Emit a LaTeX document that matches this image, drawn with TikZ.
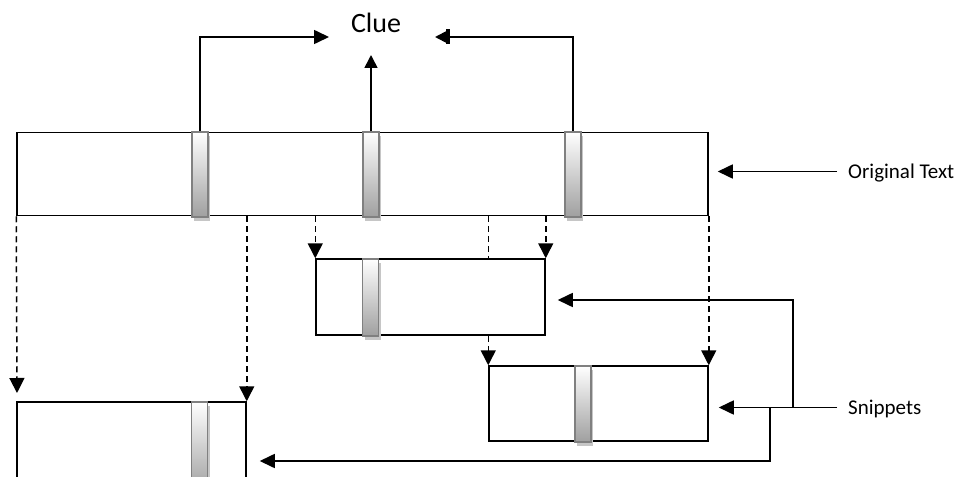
\documentclass[tikz,border=0pt]{standalone}
\usepackage{fontspec}
\setmainfont{Carlito}
\usetikzlibrary{arrows.meta,shadows,calc}
\tikzset{
  box/.style={draw=black,line width=1.5pt,fill=white,rectangle,inner sep=0pt},
  marker/.style={draw=gray,line width=1.6pt,rectangle,inner sep=0pt,minimum width=16pt,
     top color=white,bottom color=gray!75,
     drop shadow={shadow xshift=2pt,shadow yshift=-3.5pt,fill=gray!45,opacity=1}},
  lab/.style={inner sep=0pt,text height=13pt,text depth=0pt,font=\fontsize{21}{24}\selectfont},
  arr/.style={line width=1.6pt,-{Triangle[length=15pt,width=14pt]}},
  dsh/.style={line width=1.5pt,dash pattern=on 6pt off 4pt,-{Triangle[length=15pt,width=15pt]}},
}
\begin{document}
\begin{tikzpicture}[x=1pt,y=-1pt]
\useasboundingbox (0,0) rectangle (960,476);
% boxes
\node[box,minimum width=691pt,minimum height=83pt] (main) at (362.5,174) {};
\node[box,minimum width=219pt,minimum height=75pt] (snip2) at (598.5,403.5) {};
\begin{scope}
  \clip (0,0) rectangle (960,476);
  \node[box,minimum width=229pt,minimum height=118pt] (bl) at (131.5,461) {};
  \node[marker,minimum height=90pt] (mk7) at (199.5,447) {};
\end{scope}
% markers
\node[marker,minimum height=85pt] (mk1) at (200,174.5) {};
\node[marker,minimum height=85pt] (mk2) at (371,174.5) {};
\node[marker,minimum height=85pt] (mk3) at (573,174.5) {};
\node[marker,minimum height=76pt] (mk5) at (583,404) {};
% dashed line passing behind the middle snippet
\draw[dsh] (main.south -| snip2.north west) -- (snip2.north west);
\node[box,minimum width=229pt,minimum height=76pt] (mid) at (430.5,297) {};
\node[marker,minimum height=77pt] (mk4) at (370.5,297.5) {};
% labels
\node[lab,font=\fontsize{28}{30}\selectfont,text height=18pt] (clue) at (376,24) {Clue};
\node[lab,anchor=west] (orig) at (848,171.5) {Original Text};
\node[lab,anchor=west] (snip) at (848,407.5) {Snippets};
\coordinate (c1) at (329,37);
\coordinate (c2) at (371,55);
\coordinate (c3) at (435,37);
\coordinate (d1) at (17,393);
\coordinate (j1) at (793,407.5);
\coordinate (j2) at (770,407.5);
% clue arrows
\draw[arr] (mk1.north) |- (c1);
\draw[line width=1.6pt,-{Triangle[length=13pt,width=13pt]}] (mk2.north) -- (c2);
\draw[line width=1.6pt,-{Triangle[length=11pt,width=11pt]}] (mk3.north) |- (c3);
\draw[line width=4pt] ($(c3)+(13,-7.5)$) -- ($(c3)+(13,7.5)$);
% dashed projections
\draw[dsh] (main.south west) -- (d1);
\draw[dsh] (main.south -| bl.north east) -- (bl.north east);
\draw[dsh] (main.south -| mid.north west) -- (mid.north west);
\draw[dsh] (main.south -| mid.north east) -- (mid.north east);
\draw[dsh] (main.south east) -- (snip2.north east);
% label arrows
\draw[arr,shorten >=9pt] ([xshift=-11pt]orig.west) -- (main.east |- orig.west);
\draw[arr,shorten >=10pt] ([xshift=-11pt]snip.west) -- (snip2.east |- snip.west);
\draw[arr,shorten >=12pt] (j1) |- ($(mid.east)+(0,3)$);
\draw[arr,shorten >=13pt] (j2) |- (bl.east |- 0,461);
\end{tikzpicture}
\end{document}
